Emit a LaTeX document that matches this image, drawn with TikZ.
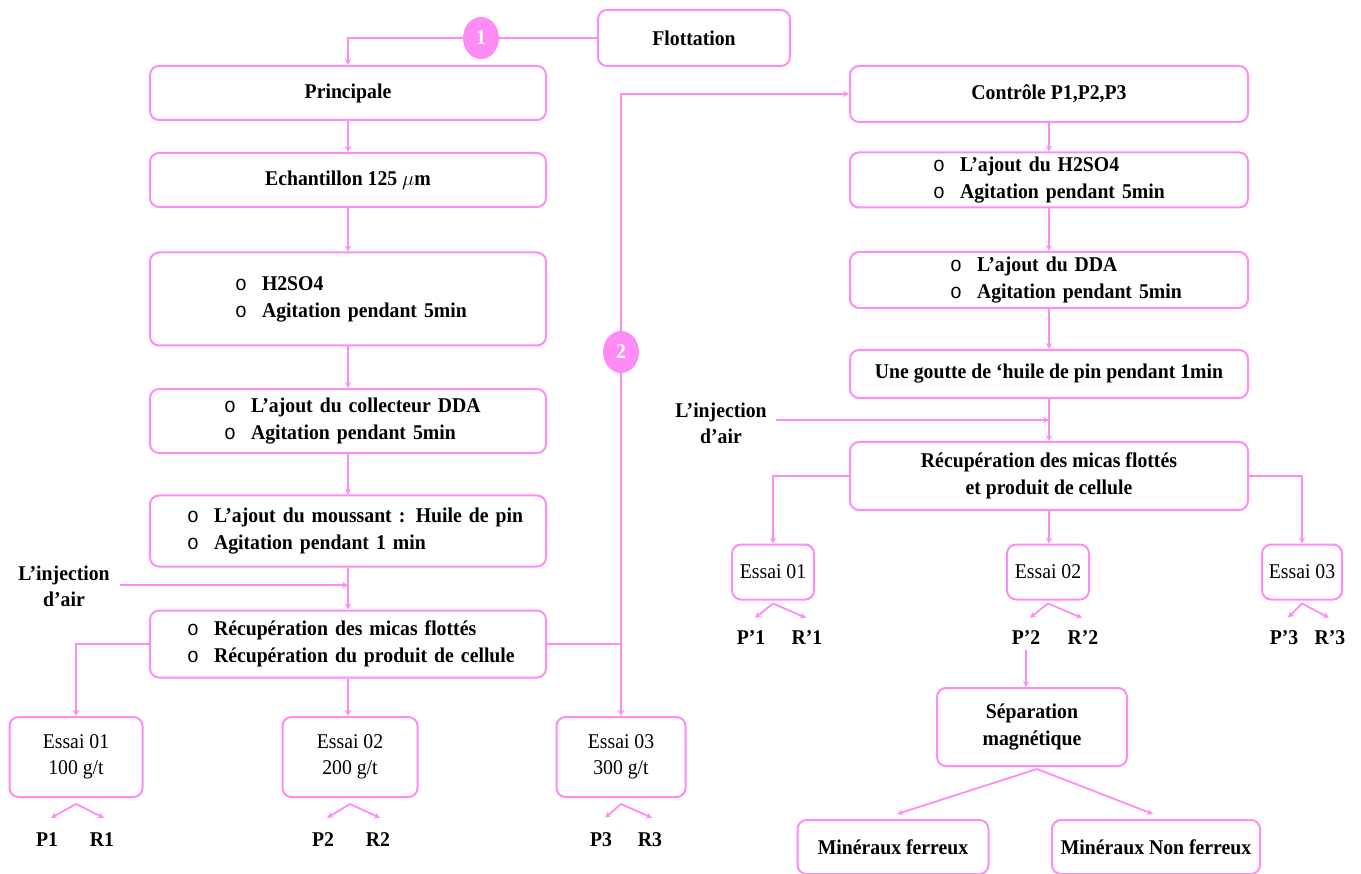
\documentclass[tikz,border=0pt]{standalone}
\usepackage{fontspec}
\setmainfont{Liberation Serif}[FakeStretch=0.94]
\newfontfamily\monof{Liberation Mono}[FakeStretch=0.94]
\usetikzlibrary{arrows.meta,shapes.geometric,calc}
\definecolor{pk}{RGB}{255,140,245}
% hollow list bullet followed by the gap before the item text
\newcommand\bul{\makebox[27pt][l]{\monof\mdseries o}}

\begin{document}
\begin{tikzpicture}[x=1pt,y=-1pt,
  box/.style={draw=pk, line width=2pt, rounded corners=9pt, inner sep=0pt,
    align=center, font=\bfseries\fontsize{21}{27}\selectfont},
  lst/.style={box, align=left, text width=#1},
  plain/.style={box, font=\mdseries\fontsize{21}{26}\selectfont},
  num/.style={ellipse, fill=pk, minimum width=36pt, minimum height=42pt,
    inner sep=0pt, text=white, font=\bfseries\fontsize{21}{21}\selectfont},
  lbl/.style={inner sep=0pt, align=center, font=\bfseries\fontsize{21}{26}\selectfont},
  ln/.style={draw=pk, line width=1.8pt},
  ar/.style={ln, -{Stealth[length=6pt,width=6pt]}}
]
\useasboundingbox (0,0) rectangle (1361,874);

\newcommand\prsplit[7]{%
  \draw[ar] ([yshift=#4]#1.south) -- ([shift={(#5,#7)}]#2.north);
  \draw[ar] ([yshift=#4]#1.south) -- ([shift={(#6,#7)}]#3.north);}

% ---------- top ----------
\node[box, minimum width=192pt, minimum height=56pt] (flot) at (694,38) {Flottation};
\node[num] (c1) at (481,38) {1};

% ---------- main branch ----------
\node[box, minimum width=396pt, minimum height=54pt] (princ) at (348,93) {Principale};
\node[box, minimum width=396pt, minimum height=54pt] (ech) at (348,180) {Echantillon 125 $\mu$m};
\node[lst=396pt, minimum height=93pt] (h2) at (348,299)
  {\hspace*{85pt}\bul H2SO4\\\hspace*{85pt}\bul Agitation pendant 5min};
\node[lst=396pt, minimum height=64pt] (dda) at (348,421)
  {\hspace*{74pt}\bul L’ajout du collecteur DDA\\\hspace*{74pt}\bul Agitation pendant 5min};
\node[lst=396pt, minimum height=71pt] (mous) at (348,531)
  {\hspace*{37pt}\bul L’ajout du moussant : Huile de pin\\\hspace*{37pt}\bul Agitation pendant 1 min};
\node[lst=396pt, minimum height=67pt] (recup) at (348,644)
  {\hspace*{37pt}\bul Récupération des micas flottés\\\hspace*{37pt}\bul Récupération du produit de cellule};
\node[lbl] (inj) at (64,586) {L’injection\\d’air};
\coordinate (j1) at (348,585);

\node[plain, minimum width=133pt, minimum height=80pt] (e1) at (76,757) {Essai 01\\100 g/t};
\node[plain, minimum width=135pt, minimum height=80pt] (e2) at (350,757) {Essai 02\\200 g/t};
\node[plain, minimum width=129pt, minimum height=80pt] (e3) at (621,757) {Essai 03\\300 g/t};

\node[lbl] (p1) at (47,840) {P1};
\node[lbl] (r1) at (102,840) {R1};
\node[lbl] (p2) at (323,840) {P2};
\node[lbl] (r2) at (378,840) {R2};
\node[lbl] (p3) at (601,840) {P3};
\node[lbl] (r3) at (650,840) {R3};

\node[num] (c2) at (621,352) {2};

% ---------- control branch ----------
\node[box, minimum width=398pt, minimum height=56pt] (ctrl) at (1049,94) {Contrôle P1,P2,P3};
\node[lst=398pt, minimum height=55pt] (rh2) at (1049,180)
  {\hspace*{83pt}\bul L’ajout du H2SO4\\\hspace*{83pt}\bul Agitation pendant 5min};
\node[lst=398pt, minimum height=56pt] (rdda) at (1049,280)
  {\hspace*{100pt}\bul L’ajout du DDA\\\hspace*{100pt}\bul Agitation pendant 5min};
\node[box, minimum width=398pt, minimum height=48pt] (goutte) at (1049,374)
  {Une goutte de ‘huile de pin pendant 1min};
\node[lbl] (rinj) at (721,423) {L’injection\\d’air};
\coordinate (j2) at (1049,420);
\node[box, minimum width=398pt, minimum height=68pt] (rrec) at (1049,476)
  {Récupération des micas flottés\\et produit de cellule};

\node[plain, minimum width=82pt, minimum height=55pt] (re1) at (773,572) {Essai 01};
\node[plain, minimum width=82pt, minimum height=55pt] (re2) at (1048,572) {Essai 02};
\node[plain, minimum width=80pt, minimum height=55pt] (re3) at (1302,572) {Essai 03};

\node[lbl] (pp1) at (751,638) {P’1};
\node[lbl] (rr1) at (807,638) {R’1};
\node[lbl] (pp2) at (1026,638) {P’2};
\node[lbl] (rr2) at (1083,638) {R’2};
\node[lbl] (pp3) at (1284,638) {P’3};
\node[lbl] (rr3) at (1330,638) {R’3};

\node[box, minimum width=190pt, minimum height=78pt] (sep) at (1032,727) {Séparation\\magnétique};
\node[box, minimum width=191pt, minimum height=54pt] (mf) at (893,847) {Minéraux ferreux};
\node[box, minimum width=208pt, minimum height=54pt] (mnf) at (1156,847) {Minéraux Non ferreux};

% ---------- connectors ----------
\draw[ln] (flot.west) -- (c1.east);
\draw[ar] (c1.west) -| (princ.north);
\draw[ar] (princ) -- (ech);
\draw[ar] (ech) -- (h2);
\draw[ar] (h2) -- (dda);
\draw[ar] (dda) -- (mous);
\draw[ar] (mous) -- (recup);
\draw[ar] ($(inj.east |- j1)+(10,0)$) -- (j1);
\draw[ar] (recup.west) -| (e1.north);
\draw[ar] (recup.south) -- (recup.south |- e2.north);
\draw[ln] (recup.east) -- (recup.east -| c2);
\draw[ar] (c2.south) -- (e3.north);
\draw[ar] (c2.north) |- (ctrl.west);

\prsplit{e1}{p1}{r1}{-6pt}{4pt}{2pt}{15pt}
\prsplit{e2}{p2}{r2}{-6pt}{4pt}{2pt}{15pt}
\prsplit{e3}{p3}{r3}{-6pt}{4pt}{2pt}{15pt}

\draw[ar] (ctrl) -- (rh2);
\draw[ar] (rh2) -- (rdda);
\draw[ar] (rdda) -- (goutte);
\draw[ar] (goutte) -- (rrec);
\draw[ar] ($(rinj.east |- j2)+(9,0)$) -- (j2);
\draw[ar] (rrec.west) -| (re1.north);
\draw[ar] (rrec.south) -- (rrec.south |- re2.north);
\draw[ar] (rrec.east) -| (re3.north);

\prsplit{re1}{pp1}{rr1}{-3pt}{4pt}{-1pt}{13pt}
\prsplit{re2}{pp2}{rr2}{-3pt}{4pt}{-1pt}{13pt}
\prsplit{re3}{pp3}{rr3}{-3pt}{4pt}{-1pt}{13pt}

\draw[ar] ([yshift=-5pt]pp2.south) -- (pp2.south |- sep.north);
\draw[ar] ([xshift=5pt,yshift=-2pt]sep.south) -- ([shift={(4pt,5pt)}]mf.north);
\draw[ar] ([xshift=5pt,yshift=-2pt]sep.south) -- ([shift={(-3pt,5pt)}]mnf.north);
\end{tikzpicture}
\end{document}
